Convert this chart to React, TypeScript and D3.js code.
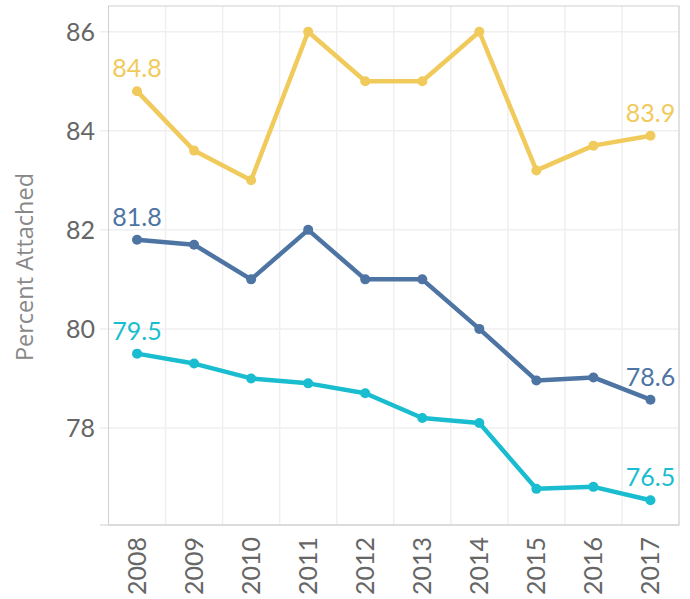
import React from "react";
import * as d3 from "d3";

const years = ["2008","2009","2010","2011","2012","2013","2014","2015","2016","2017"];
const yellowValues = [84.8, 83.6, 83.0, 86.0, 85.0, 85.0, 86.0, 83.2, 83.7, 83.9];
const blueValues = [81.8, 81.7, 81.0, 82.0, 81.0, 81.0, 80.0, 78.96, 79.02, 78.57];
const tealValues = [79.5, 79.3, 79.0, 78.9, 78.7, 78.2, 78.1, 76.77, 76.81, 76.54];
const yTicks = [78, 80, 82, 84, 86];
const yTitle = "Percent Attached";

const series = [
  { name: "yellow", values: yellowValues, color: "#f1ca5c" },
  { name: "blue", values: blueValues, color: "#4e74a3" },
  { name: "teal", values: tealValues, color: "#19bdcf" },
];

const W = 690, H = 599;
const left = 108.5, right = 679, top = 6, bottom = 525;
const font = "Lato, 'Open Sans', sans-serif";

export default function App() {
  const x = d3.scaleBand().domain(years).range([left, right]);
  const y = d3.scaleLinear().domain([76.04, 86.52]).range([bottom, top]);
  const cx = (i: number) => (x(years[i]) as number) + x.bandwidth() / 2;
  const line = d3.line<number>().x((_, i) => cx(i)).y((d) => y(d));
  const last = years.length - 1;
  const fmt = d3.format(".1f");
  return (
    <svg width={W} height={H} style={{ position: "absolute", left: 0, top: 0 }}>
      <rect x={0} y={0} width={W} height={H} fill="#fff" />
      {years.map((yr) => (
        <line key={yr} x1={(x(yr) as number) + x.bandwidth()} x2={(x(yr) as number) + x.bandwidth()} y1={top} y2={bottom} stroke="#efefef" strokeWidth={1.5} />
      ))}
      {yTicks.map((t) => (
        <line key={t} x1={100} x2={right} y1={y(t)} y2={y(t)} stroke="#efefef" strokeWidth={1.5} />
      ))}
      <rect x={left} y={top} width={right - left} height={bottom - top} fill="none" stroke="#d0d0d0" strokeWidth={1} />
      <line x1={100} x2={right} y1={bottom} y2={bottom} stroke="#d0d0d0" strokeWidth={1} />
      {yTicks.map((t) => (
        <text key={t} x={95} y={y(t)} dy="0.36em" textAnchor="end" fontFamily={font} fontSize={25} fill="#666">{t}</text>
      ))}
      {years.map((yr, i) => (
        <text key={yr} transform={`translate(${cx(i) + 9},${537}) rotate(-90)`} textAnchor="end" fontFamily={font} fontSize={25} fill="#666">{yr}</text>
      ))}
      <text transform={`translate(33,${267}) rotate(-90)`} textAnchor="middle" fontFamily="'Open Sans', sans-serif" fontSize={23.5} fill="#888">{yTitle}</text>
      {series.map((s) => (
        <g key={s.name}>
          <path d={line(s.values) as string} fill="none" stroke={s.color} strokeWidth={4.5} strokeLinejoin="round" />
          {s.values.map((v, i) => (
            <circle key={i} cx={cx(i)} cy={y(v)} r={5} fill={s.color} />
          ))}
          <text x={cx(0)} y={y(s.values[0]) - 14} textAnchor="middle" fontFamily={font} fontSize={25} fill={s.color}>{fmt(s.values[0])}</text>
          <text x={cx(last)} y={y(s.values[last]) - 14} textAnchor="middle" fontFamily={font} fontSize={25} fill={s.color}>{fmt(s.values[last])}</text>
        </g>
      ))}
    </svg>
  );
}
